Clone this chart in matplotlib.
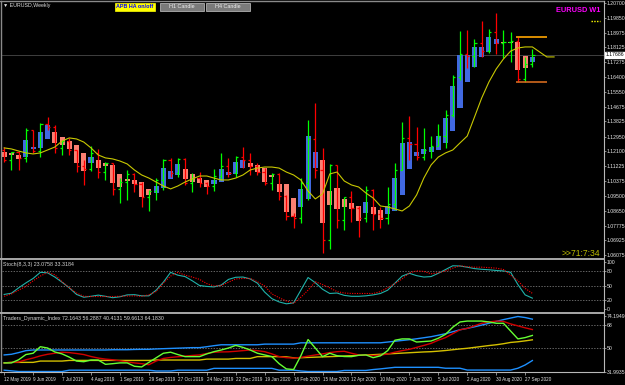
import matplotlib
matplotlib.use("Agg")
import matplotlib.pyplot as plt
import matplotlib.transforms as mtransforms
from matplotlib.lines import Line2D
from matplotlib.patches import Rectangle

plt.rcParams['font.family'] = ['Liberation Sans', 'DejaVu Sans']

# EURUSD weekly bars, 12 May 2019 .. 4 Oct 2020
date_labels = ["12 May 2019", "9 Jun 2019", "7 Jul 2019", "4 Aug 2019", "1 Sep 2019",
               "29 Sep 2019", "27 Oct 2019", "24 Nov 2019", "22 Dec 2019", "19 Jan 2020",
               "16 Feb 2020", "15 Mar 2020", "12 Apr 2020", "10 May 2020", "7 Jun 2020",
               "5 Jul 2020", "2 Aug 2020", "30 Aug 2020", "27 Sep 2020"]

opens = [1.1217, 1.1159, 1.1205, 1.1171, 1.1333, 1.1211, 1.1368, 1.1350, 1.1229, 1.1269,
         1.1217, 1.1124, 1.1107, 1.1200, 1.1089, 1.1142, 1.0991, 1.1031, 1.1078, 1.1020,
         1.0944, 1.0979, 1.1043, 1.1159, 1.1083, 1.1165, 1.1025, 1.1054, 1.1025, 1.1008,
         1.1066, 1.1124, 1.1083, 1.1176, 1.1159, 1.1124, 1.1089, 1.1025, 1.1078, 1.0950,
         1.0834, 1.0822, 1.1025, 1.1281, 1.1101, 1.0695, 1.1130, 1.0811, 1.0944, 1.0880,
         1.0822, 1.0985, 1.0846, 1.0822, 1.0904, 1.1101, 1.1287, 1.1252, 1.1176, 1.1217,
         1.1240, 1.1298, 1.1420, 1.1641, 1.1774, 1.1762, 1.1838, 1.1791, 1.1902, 1.1838,
         1.1844, 1.1850, 1.1629, 1.1716]
highs = [1.1234, 1.1205, 1.1210, 1.1345, 1.1333, 1.1374, 1.1408, 1.1362, 1.1275, 1.1287,
         1.1217, 1.1159, 1.1240, 1.1223, 1.1147, 1.1142, 1.1054, 1.1101, 1.1085, 1.1030,
         1.0985, 1.1054, 1.1165, 1.1171, 1.1171, 1.1171, 1.1083, 1.1089, 1.1031, 1.1107,
         1.1200, 1.1171, 1.1182, 1.1234, 1.1200, 1.1142, 1.1112, 1.1083, 1.1083, 1.0955,
         1.0851, 1.1054, 1.1391, 1.1490, 1.1229, 1.1136, 1.1130, 1.0944, 1.0979, 1.0892,
         1.1008, 1.0990, 1.0886, 1.1002, 1.1142, 1.1379, 1.1414, 1.1351, 1.1345, 1.1298,
         1.1368, 1.1449, 1.1652, 1.1908, 1.1913, 1.1861, 1.1966, 1.1919, 1.2012, 1.1913,
         1.1902, 1.1873, 1.1757, 1.1803]
lows = [1.1147, 1.1101, 1.1101, 1.1147, 1.1200, 1.1176, 1.1333, 1.1200, 1.1188, 1.1188,
        1.1089, 1.1014, 1.1095, 1.1054, 1.1043, 1.0956, 1.0909, 1.0927, 1.0973, 1.0886,
        1.0863, 1.0927, 1.0985, 1.1060, 1.1060, 1.1014, 1.0973, 1.1002, 1.0962, 1.0979,
        1.1043, 1.1060, 1.1060, 1.1112, 1.1072, 1.1072, 1.1014, 1.0985, 1.0927, 1.0811,
        1.0764, 1.0793, 1.0927, 1.1054, 1.0619, 1.0642, 1.0764, 1.0753, 1.0799, 1.0712,
        1.0799, 1.0753, 1.0764, 1.0787, 1.0869, 1.1101, 1.1159, 1.1159, 1.1159, 1.1171,
        1.1240, 1.1229, 1.1408, 1.1623, 1.1690, 1.1699, 1.1757, 1.1780, 1.1774, 1.1751,
        1.1728, 1.1612, 1.1612, 1.1699]
closes = [1.1159, 1.1205, 1.1171, 1.1333, 1.1211, 1.1368, 1.1350, 1.1229, 1.1269, 1.1217,
          1.1124, 1.1107, 1.1200, 1.1089, 1.1142, 1.0991, 1.1031, 1.1078, 1.1020, 1.0944,
          1.0979, 1.1043, 1.1159, 1.1083, 1.1165, 1.1025, 1.1054, 1.1025, 1.1008, 1.1066,
          1.1124, 1.1083, 1.1176, 1.1159, 1.1124, 1.1089, 1.1025, 1.1078, 1.0950, 1.0834,
          1.0822, 1.1025, 1.1281, 1.1101, 1.0695, 1.1130, 1.0811, 1.0944, 1.0880, 1.0822,
          1.0985, 1.0846, 1.0822, 1.0904, 1.1101, 1.1287, 1.1252, 1.1176, 1.1217, 1.1240,
          1.1298, 1.1420, 1.1641, 1.1774, 1.1762, 1.1838, 1.1791, 1.1902, 1.1838, 1.1844,
          1.1850, 1.1629, 1.1716, 1.1769]

# heiken ashi bodies as drawn
ha_open = [1.1205, 1.1200, 1.1188, 1.1176, 1.1223, 1.1229, 1.1281, 1.1321, 1.1292, 1.1269,
           1.1246, 1.1200, 1.1142, 1.1159, 1.1142, 1.1130, 1.1078, 1.1049, 1.1043, 1.1031,
           1.0991, 1.0967, 1.0996, 1.1049, 1.1072, 1.1107, 1.1078, 1.1054, 1.1043, 1.1020,
           1.1031, 1.1072, 1.1078, 1.1112, 1.1142, 1.1130, 1.1112, 1.1072, 1.1020, 1.1020,
           1.0938, 1.0886, 1.0933, 1.1112, 1.1159, 1.0979, 1.0996, 1.0933, 1.0909, 1.0892,
           1.0851, 1.0886, 1.0869, 1.0846, 1.0863, 1.0956, 1.1107, 1.1182, 1.1194, 1.1205,
           1.1217, 1.1258, 1.1327, 1.1461, 1.1612, 1.1699, 1.1757, 1.1786, 1.1832, 1.1844,
           1.1844, 1.1844, 1.1762, 1.1728]
ha_close = [1.1176, 1.1188, 1.1165, 1.1275, 1.1234, 1.1321, 1.1362, 1.1258, 1.1246, 1.1223,
            1.1142, 1.1095, 1.1176, 1.1112, 1.1124, 1.1025, 1.1002, 1.1037, 1.1020, 1.0944,
            1.0956, 1.1008, 1.1112, 1.1095, 1.1136, 1.1049, 1.1031, 1.1025, 1.1002, 1.1043,
            1.1107, 1.1089, 1.1147, 1.1159, 1.1118, 1.1089, 1.1031, 1.1060, 1.0973, 1.0857,
            1.0828, 1.0991, 1.1298, 1.1205, 1.0793, 1.0898, 1.0875, 1.0886, 1.0875, 1.0805,
            1.0915, 1.0846, 1.0811, 1.0892, 1.1054, 1.1258, 1.1263, 1.1205, 1.1223, 1.1234,
            1.1298, 1.1403, 1.1588, 1.1768, 1.1768, 1.1815, 1.1815, 1.1873, 1.1861, 1.1838,
            1.1838, 1.1681, 1.1693, 1.1757]

# moving average, shifted 3 bars to the right
ma = [1.1229, 1.1223, 1.1211, 1.1200, 1.1194, 1.1200, 1.1217, 1.1234, 1.1269, 1.1287,
      1.1281, 1.1263, 1.1229, 1.1188, 1.1171, 1.1165, 1.1153, 1.1136, 1.1101, 1.1072,
      1.1054, 1.1031, 1.1008, 1.0991, 1.1008, 1.1031, 1.1049, 1.1066, 1.1066, 1.1054,
      1.1043, 1.1043, 1.1054, 1.1072, 1.1101, 1.1112, 1.1118, 1.1118, 1.1112, 1.1089,
      1.1072, 1.1043, 1.0979, 1.0933, 1.0962, 1.1078, 1.1089, 1.1037, 1.1014, 1.1002,
      1.0967, 1.0938, 1.0892, 1.0886, 1.0875, 1.0863, 1.0892, 1.0956, 1.1054, 1.1130,
      1.1176, 1.1200, 1.1217, 1.1258, 1.1298, 1.1408, 1.1519, 1.1612, 1.1687, 1.1745,
      1.1791, 1.1809, 1.1815, 1.1815, 1.1786, 1.1757, 1.1757]

price_ticks = [1.20700, 1.19850, 1.18975, 1.18125, 1.17275, 1.16400, 1.15550, 1.14675,
               1.13825, 1.12950, 1.12100, 1.11225, 1.10375, 1.09500, 1.08650, 1.07775,
               1.06925, 1.06075]
last_price = 1.17686

stoch_main = [31, 33.5, 45, 55.5, 65, 78, 77, 68, 57, 45,
              31, 25, 27, 29.5, 27, 24, 26, 30, 30.5, 28,
              28, 40, 57, 78, 72, 69, 60, 50, 48, 47,
              51, 63, 67.5, 68, 64, 55, 36, 22, 15, 11,
              13, 40, 67, 56, 42, 33, 34, 29, 27, 27,
              28, 30, 33, 40, 55, 70, 76, 71, 68, 69,
              76, 84, 92, 91.5, 89, 86, 84.5, 83.5, 82, 81,
              78, 52, 30, 23.0758]
stoch_signal = [27, 32, 40, 48, 60, 70, 78, 73, 58, 45,
                34, 27, 26.5, 26.5, 26.5, 26.5, 27, 27.5, 28, 27,
                30, 37, 55, 70, 78, 72, 68, 63, 54, 49,
                50, 57, 64, 65, 65, 58, 49, 32, 24, 17,
                12, 25, 40, 58, 52, 45, 37, 34, 33, 33,
                33, 33, 37, 45, 54, 64, 77, 81, 80, 75,
                77, 81, 87, 92, 90, 89, 89, 88, 87, 84,
                72, 60, 44, 33.3184]

tdi_upper = [44.7, 45.2, 46.5, 48, 48.5, 48.5, 48.5, 48.5, 48.5, 48.5,
             48.5, 48.5, 48.5, 48.5, 48.5, 48.7, 48.7, 48.7, 48.9, 49,
             49, 49.3, 49.5, 49.7, 49.9, 50.1, 50.3, 50.3, 51, 51.8,
             52.5, 52.5, 52.5, 52.5, 52.5, 52.5, 53, 53, 53, 53,
             53, 54, 54, 54, 54, 54, 54, 54, 54, 54,
             54, 54, 54, 54.6, 55.2, 55.8, 56.4, 57.1, 57.9, 58.7,
             59.8, 61, 62.5, 64, 65.1, 66.3, 67.6, 69, 70.4, 71.8,
             73, 74.19, 73.4, 72.16]
tdi_base = [38.6, 39, 39, 39, 39, 40, 40, 40, 40, 40.5,
            40.5, 40.5, 40.5, 40.5, 40.5, 40.5, 40.5, 40.5, 40.5, 40.5,
            40.5, 40.8, 40.8, 40.8, 40.8, 40.8, 40.8, 40.8, 41.5, 41.5,
            41.5, 41.5, 42, 42, 42, 43.4, 43.4, 43.4, 43.4, 43.2,
            42.5, 42.6, 42.8, 43, 43.2, 43.4, 43.6, 43.9, 44.1, 44.4,
            44.7, 44.9, 45.2, 45.5, 45.8, 46.1, 46.4, 46.7, 47, 47.2,
            47.6, 48.1, 48.7, 49.3, 49.8, 50.5, 51.2, 51.9, 52.5, 53.3,
            54.3, 54.8, 55.5, 56.29]
tdi_lower = [33, 32.5, 32, 32, 32, 32, 32, 32, 32, 33,
             33, 33, 33, 33, 33, 33, 33, 33, 33, 33,
             33, 32.4, 32.4, 32.4, 33, 33, 33, 33, 33, 34.4,
             34.4, 34.4, 34.4, 34.4, 34.4, 34.4, 34.4, 34.4, 33, 33,
             33, 32.4, 31.99, 32, 32, 32, 32, 32.8, 32.8, 32.8,
             32.8, 33.5, 34, 34.6, 35.2, 35.2, 35.2, 35.2, 35.2, 35.2,
             35.2, 34.5, 34.5, 34.5, 33.1, 33.1, 33.1, 33.1, 33.1, 33.1,
             33.1, 34.5, 37, 40.41]
tdi_rsi = [38.6, 38.6, 41, 45, 46, 51, 50, 47, 45.5, 43,
           40, 39.5, 40.8, 40.8, 37.5, 38, 38.6, 38.6, 36, 35.5,
           39, 42.5, 46, 46.8, 45, 43.4, 43.4, 43.4, 45.5, 47.2,
           48.5, 50, 52, 50.5, 48.5, 46, 44.7, 43.4, 38, 34,
           33.5, 44, 56.5, 50, 43.4, 46, 44.1, 43.5, 43.4, 44.5,
           44.7, 42.6, 44, 48, 56, 57, 57, 54.6, 55, 55.4,
           57.5, 60.5, 66, 70, 70.7, 70.7, 70.7, 70, 69, 69,
           63, 57, 58, 59.66]
tdi_signal = [38.6, 39, 39.3, 41, 42.3, 44, 45.2, 46, 46.8, 46.5,
              45.8, 45, 43.5, 42.3, 41.5, 41, 40.2, 39.3, 38.6, 38,
              37.2, 40, 42, 42.8, 43.3, 43.8, 44.3, 44.7, 45.8, 46.8,
              47, 47.1, 47.5, 48, 48.5, 48, 47.2, 45.5, 43.4, 42.6,
              42.3, 42.8, 43.8, 44.7, 45.5, 46.5, 47.2, 47.5, 46, 44.7,
              44.5, 44.2, 44.5, 45.5, 46.8, 48, 49, 50.5, 52, 53.6,
              56, 58, 61, 64, 65.1, 67, 69, 70, 70.7, 70.4,
              68.5, 67, 65.5, 64.18]

n = len(closes)
x = list(range(n))

W, H = 625, 385
fig = plt.figure(figsize=(W / 100, H / 100), dpi=100, facecolor="black")


def box(l, t, r, b):
    return [l / W, 1 - b / H, (r - l) / W, (b - t) / H]


def pline(x0, y0, x1, y1, color="#909090", lw=0.8):
    fig.add_artist(Line2D([x0 / W, x1 / W], [1 - y0 / H, 1 - y1 / H],
                          transform=fig.transFigure, color=color, lw=lw))


ax = fig.add_axes(box(2, 2, 604, 258))
ax_st = fig.add_axes(box(2, 260, 604, 311))
ax_tdi = fig.add_axes(box(2, 314, 604, 372))

for a in (ax, ax_st, ax_tdi):
    a.set_facecolor("black")
    for s in a.spines.values():
        s.set_visible(False)
    a.set_xlim(-0.3, 82.9)
    a.yaxis.tick_right()
    a.tick_params(axis="y", colors="#a0a0a0", labelcolor="#e6e6e6", labelsize=3.7,
                  length=1.5, width=0.6, pad=0.4)
    a.tick_params(axis="x", bottom=False, labelbottom=False)

# ---- price pane
ax.set_ylim(1.05901, 1.20758)
ax.set_yticks(price_ticks)
ax.set_yticklabels(["%.5f" % p for p in price_ticks])
ax.axhline(last_price, color="#4a4a4a", lw=0.6, zorder=1)

body_col = ["#4169E1" if c >= o else "#FA8072" for o, c in zip(ha_open, ha_close)]
ax.bar(x, [c - o for o, c in zip(ha_open, ha_close)], bottom=ha_open, width=0.7,
       color=body_col, linewidth=0, zorder=2)
bar_col = ["#00FF00" if c >= o else "#FF0000" for o, c in zip(opens, closes)]
ax.vlines(x, lows, highs, colors=bar_col, lw=0.9, zorder=3)
ax.hlines(opens, [i - 0.3 for i in x], x, colors=bar_col, lw=0.9, zorder=3)
ax.hlines(closes, x, [i + 0.3 for i in x], colors=bar_col, lw=0.9, zorder=3)

ax.plot(range(len(ma)), ma, color="#C8C800", lw=0.8, zorder=4)

# last week's range box
ax.hlines(highs[71], 71 - 0.3, 75, color="#FFA500", lw=1.2, zorder=5)
ax.hlines(lows[71], 71 - 0.3, 75, color="#D2691E", lw=1.2, zorder=5)
ax.hlines(1.1968, 81.1, 82.3, color="#FFFF00", lw=1.0, linestyles=(0, (1, 1)))

trans = mtransforms.blended_transform_factory(ax.transAxes, ax.transData)
ax.text(1.0035, last_price, "%.5f" % last_price, transform=trans, fontsize=3.7,
        color="black", va="center", ha="left", clip_on=False, zorder=10,
        bbox=dict(boxstyle="square,pad=0.12", fc="white", ec="white"))

fig.text(600 / W, 1 - 10 / H, "EURUSD W1", color="#FF00FF", fontsize=5.3,
         fontweight="bold", ha="right", va="center")
fig.text(600 / W, 1 - 253 / H, ">>71:7:34", color="#BDBD00", fontsize=6.2,
         ha="right", va="center")
fig.text(3 / W, 1 - 5 / H, "\u25bc EURUSD,Weekly", color="#e0e0e0", fontsize=3.8,
         ha="left", va="center")

# buttons
for (l, r, fc, ec, label, tc, fw) in [(115, 155, "#FFFF00", "#FFFF00", "APB HA on/off", "#0000FF", "bold"),
                                      (160, 204, "#7a7a7a", "#c8c8c8", "H1 Candle", "#eeeeee", "normal"),
                                      (206, 250, "#7a7a7a", "#c8c8c8", "H4 Candle", "#eeeeee", "normal")]:
    fig.add_artist(Rectangle((l / W, 1 - 11 / H), (r - l) / W, 8 / H, transform=fig.transFigure,
                             fc=fc, ec=ec, lw=0.5))
    fig.text((l + r) / 2 / W, 1 - 7 / H, label, color=tc, fontsize=3.9, fontweight=fw,
             ha="center", va="center")

# ---- stochastic pane
ax_st.set_ylim(-4.3, 104.3)
ax_st.set_yticks([0, 20, 50, 80, 100])
ax_st.set_yticklabels(["0", "20", "50", "80", "100"])
for lvl in (20, 50, 80):
    ax_st.axhline(lvl, color="#8c8c8c", lw=0.5, ls=(0, (2, 2)))
ax_st.plot(x, stoch_main, color="#20B2AA", lw=0.8)
ax_st.plot(x, stoch_signal, color="#FF0000", lw=0.8, ls=(0, (1, 1.2)))
ax_st.text(0.002, 0.97, "Stoch(8,3,3) 23.0758 33.3184", transform=ax_st.transAxes,
           color="#d8d8d8", fontsize=3.8, va="top", ha="left")

# ---- TDI pane
ax_tdi.set_ylim(31.61, 76.11)
ax_tdi.set_yticks([31.9935, 50, 68, 74.1949])
ax_tdi.set_yticklabels(["31.9935", "50", "68", "74.1949"])
for lvl in (50, 68):
    ax_tdi.axhline(lvl, color="#8c8c8c", lw=0.5, ls=(0, (2, 2)))
ax_tdi.plot(x, tdi_upper, color="#1E90FF", lw=1.0)
ax_tdi.plot(x, tdi_lower, color="#1E90FF", lw=1.0)
ax_tdi.plot(x, tdi_base, color="#D4C000", lw=1.0)
ax_tdi.plot(x, tdi_signal, color="#D00000", lw=1.0)
ax_tdi.plot(x, tdi_rsi, color="#66FF33", lw=1.0)
ax_tdi.text(0.002, 0.97, "Traders_Dynamic_Index 72.1643 56.2887 40.4131 59.6613 64.1830",
            transform=ax_tdi.transAxes, color="#d8d8d8", fontsize=3.8, va="top", ha="left")

ax_tdi.set_xticks(list(range(0, n, 4)))
ax_tdi.set_xticklabels(date_labels, ha="left")
ax_tdi.tick_params(axis="x", bottom=True, labelbottom=True, colors="#a0a0a0",
                   labelcolor="#e6e6e6", labelsize=3.3, length=2, width=0.6, pad=1.5)

# frame and pane separators
pline(0, 1, 604, 1, "#8a8a8a", 1.0)
pline(1, 1, 1, 372, "#8a8a8a", 1.0)
pline(604, 1, 604, 372, "#b8b8b8", 0.8)
pline(0, 258.8, 604, 258.8, "#a8a8a8", 1.4)
pline(0, 312.8, 604, 312.8, "#a8a8a8", 1.4)
pline(0, 372, 604, 372, "#b8b8b8", 0.8)

fig.savefig("out.png", dpi=100, facecolor="black")
